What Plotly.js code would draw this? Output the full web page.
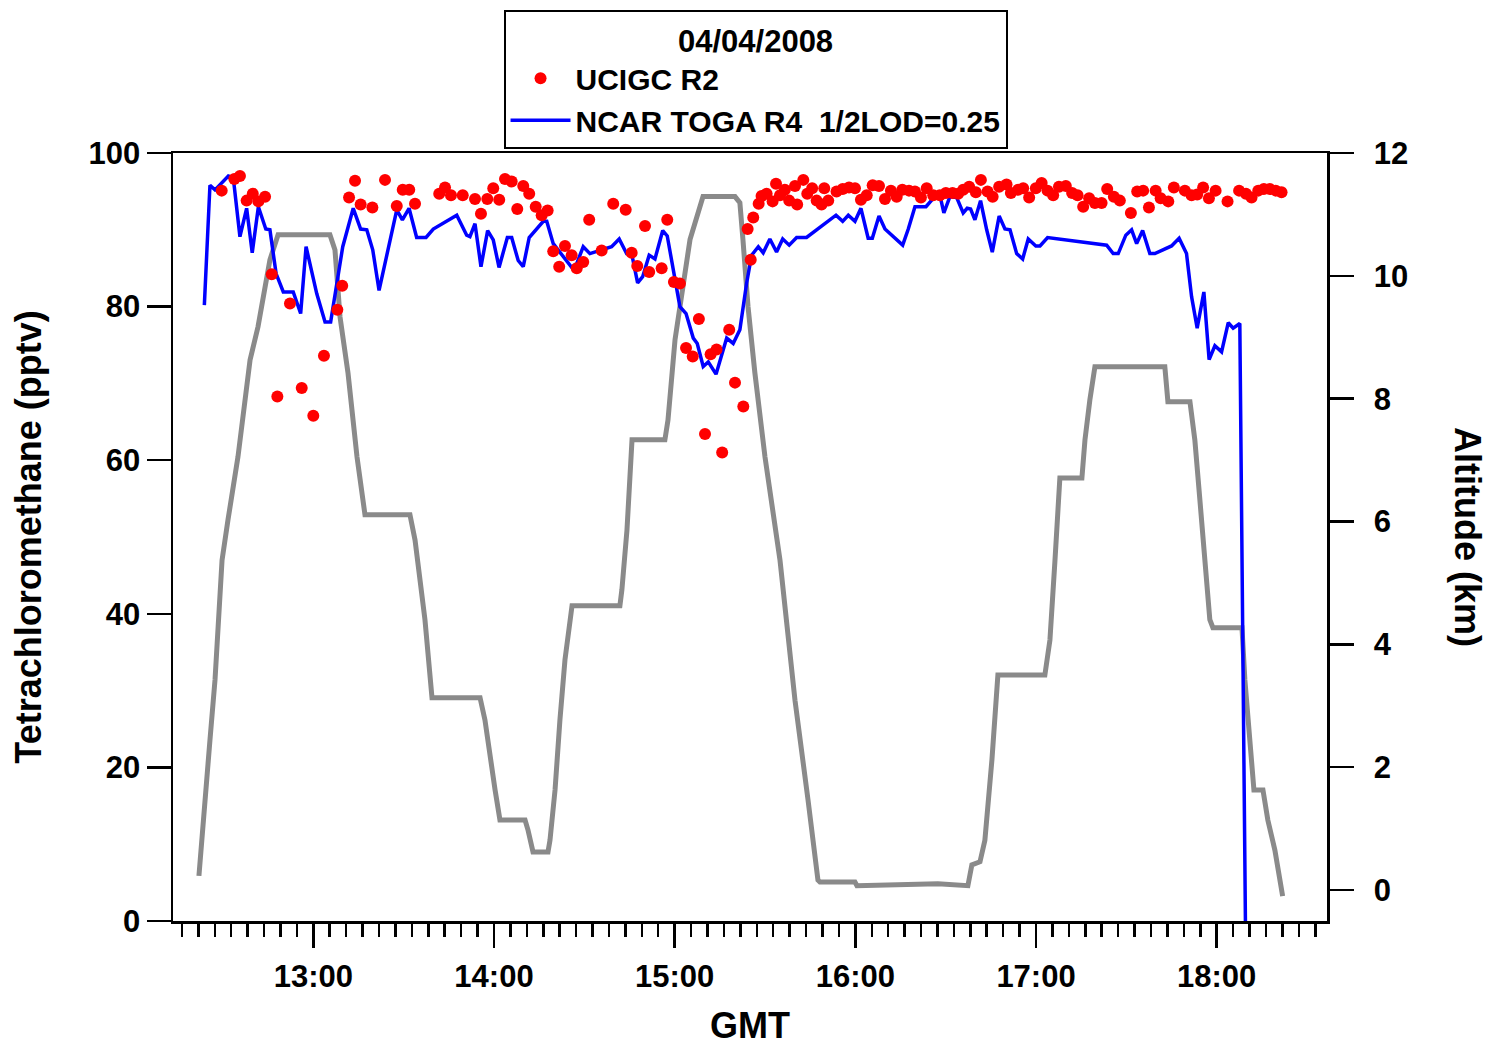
<!DOCTYPE html>
<html>
<head>
<meta charset="utf-8">
<script src="https://cdn.plot.ly/plotly-3.0.1.min.js"></script>
<style>html,body{margin:0;padding:0;background:#fff;}#chart{width:1499px;height:1052px;}</style>
</head>
<body>
<div id="chart"></div>
<script>
// GMT in decimal hours
const hourTicks = [13, 14, 15, 16, 17, 18];
const hourLabels = ["13:00", "14:00", "15:00", "16:00", "17:00", "18:00"];

// Altitude (km)
const altTime = [12.367,12.390,12.428,12.456,12.495,12.528,12.583,12.650,12.694,12.760,12.805,13.092,13.120,13.148,13.192,13.242,13.286,13.535,13.563,13.618,13.657,13.923,13.950,14.006,14.033,14.172,14.188,14.216,14.299,14.310,14.338,14.365,14.393,14.432,14.697,14.708,14.736,14.764,14.946,14.963,15.002,15.085,15.157,15.334,15.361,15.378,15.406,15.444,15.483,15.500,15.583,15.666,15.738,15.793,15.804,15.998,16.009,16.457,16.623,16.645,16.690,16.717,16.756,16.789,17.049,17.077,17.105,17.132,17.254,17.271,17.298,17.326,17.713,17.730,17.852,17.879,17.907,17.935,17.962,17.979,18.140,18.156,18.184,18.206,18.256,18.283,18.322,18.365];
const altKm = [0.23,0.98,2.44,3.42,5.37,6.03,7.05,8.63,9.17,10.26,10.67,10.67,10.42,9.33,8.42,7.05,6.11,6.11,5.70,4.40,3.13,3.13,2.77,1.63,1.14,1.14,0.98,0.62,0.62,0.81,1.63,2.77,3.75,4.63,4.63,4.89,5.86,7.33,7.33,7.65,8.96,10.59,11.29,11.29,11.19,10.59,9.50,8.42,7.49,7.05,5.37,3.09,1.47,0.16,0.13,0.13,0.07,0.10,0.07,0.41,0.46,0.81,2.12,3.50,3.50,4.07,5.37,6.71,6.71,7.33,7.98,8.52,8.52,7.95,7.95,7.33,6.35,5.37,4.40,4.27,4.27,3.42,2.44,1.63,1.63,1.14,0.65,-0.10];

// NCAR TOGA R4 (pptv)
const togaTime = [12.397,12.428,12.456,12.530,12.557,12.594,12.631,12.662,12.696,12.737,12.760,12.794,12.834,12.889,12.930,12.960,13.019,13.065,13.096,13.163,13.221,13.262,13.296,13.329,13.364,13.415,13.462,13.493,13.530,13.572,13.624,13.664,13.794,13.849,13.867,13.895,13.928,13.965,13.996,14.028,14.074,14.098,14.134,14.162,14.195,14.273,14.292,14.328,14.365,14.430,14.458,14.494,14.531,14.651,14.693,14.734,14.762,14.795,14.823,14.859,14.891,14.934,14.959,15.002,15.029,15.063,15.103,15.125,15.158,15.186,15.229,15.288,15.324,15.361,15.398,15.426,15.463,15.490,15.527,15.564,15.598,15.634,15.675,15.730,15.822,15.893,15.930,15.961,15.998,16.031,16.071,16.094,16.131,16.164,16.262,16.293,16.330,16.391,16.431,16.468,16.490,16.523,16.561,16.597,16.619,16.638,16.662,16.693,16.727,16.758,16.796,16.828,16.856,16.893,16.926,16.957,16.999,17.022,17.064,17.391,17.427,17.455,17.497,17.529,17.557,17.590,17.630,17.658,17.750,17.792,17.833,17.861,17.892,17.929,17.958,17.990,18.027,18.064,18.091,18.128,18.159];
const togaVal = [80.2,95.8,95.2,97.0,96.8,89.1,92.8,87.0,93.0,90.1,90.0,84.3,81.9,81.9,79.1,87.8,81.7,78.0,78.0,87.8,92.8,90.1,90.0,87.4,82.1,87.4,92.6,91.3,92.8,89.0,89.0,90.1,91.9,89.3,89.1,90.8,85.2,89.9,88.7,85.1,89.0,89.0,86.0,85.2,89.0,91.1,91.1,88.2,87.1,85.1,85.6,87.8,86.9,87.8,88.8,86.9,86.9,83.1,83.9,86.7,86.2,89.9,89.2,83.5,80.0,79.1,75.9,75.2,72.2,72.8,71.2,75.9,75.2,77.0,83.0,86.7,87.8,87.0,88.8,87.1,88.8,88.0,89.0,89.0,90.6,91.9,91.1,91.9,91.1,92.8,88.9,88.9,91.8,90.1,88.0,90.1,93.0,93.0,94.1,94.5,92.2,94.3,94.2,92.2,92.8,92.7,91.3,93.8,90.0,87.1,91.8,90.1,90.0,86.9,86.2,88.8,87.9,87.9,89.0,88.0,86.9,86.9,89.3,90.0,88.2,89.9,86.9,86.9,87.9,88.9,86.9,81.3,77.2,81.9,73.1,74.9,74.1,77.9,77.2,77.8,0];

// UCIGC R2 (pptv)
const ucTime = [12.493,12.563,12.594,12.631,12.665,12.696,12.733,12.770,12.801,12.871,12.936,13.000,13.059,13.133,13.160,13.198,13.231,13.262,13.327,13.397,13.462,13.495,13.531,13.563,13.697,13.729,13.762,13.827,13.895,13.928,13.963,13.996,14.029,14.061,14.098,14.129,14.162,14.195,14.231,14.264,14.297,14.328,14.361,14.393,14.430,14.458,14.494,14.527,14.596,14.660,14.729,14.762,14.793,14.836,14.859,14.928,14.959,14.996,15.029,15.063,15.100,15.134,15.168,15.199,15.232,15.263,15.302,15.334,15.380,15.404,15.421,15.435,15.465,15.481,15.509,15.542,15.561,15.583,15.610,15.634,15.666,15.678,15.712,15.734,15.761,15.786,15.813,15.828,15.850,15.896,15.930,15.965,15.998,16.031,16.063,16.096,16.131,16.164,16.197,16.229,16.260,16.297,16.330,16.363,16.395,16.431,16.468,16.501,16.538,16.569,16.597,16.630,16.667,16.695,16.732,16.760,16.796,16.837,16.861,16.901,16.929,16.962,16.999,17.031,17.064,17.095,17.127,17.165,17.200,17.230,17.261,17.294,17.326,17.363,17.394,17.431,17.464,17.525,17.560,17.593,17.625,17.662,17.690,17.732,17.763,17.824,17.861,17.892,17.925,17.957,17.994,18.060,18.124,18.162,18.193,18.230,18.261,18.294,18.327,18.359];
const ucVal = [95.1,96.6,97.0,93.8,94.7,93.7,94.3,84.2,68.3,80.4,69.4,65.8,73.6,79.6,82.7,94.2,96.4,93.3,92.9,96.5,93.1,95.2,95.2,93.4,94.7,95.5,94.5,94.5,94.0,92.1,94.0,95.4,93.9,96.6,96.3,92.7,95.7,94.7,93.0,91.9,92.5,87.2,85.2,87.9,86.7,85.0,85.8,91.3,87.3,93.4,92.6,87.0,85.3,90.5,84.5,85.0,91.3,83.2,83.0,74.6,73.5,78.4,63.4,73.8,74.4,61.0,77.0,70.1,67.0,90.1,86.1,91.6,93.4,94.4,94.7,93.7,96.0,94.5,95.2,93.8,95.7,93.3,96.5,94.7,95.4,93.8,93.3,95.4,93.8,95.0,95.3,95.5,95.4,93.9,94.5,95.8,95.7,94.0,95.1,94.3,95.2,95.1,95.0,94.2,95.4,94.5,94.5,94.8,94.8,94.7,95.2,95.6,94.9,96.5,95.0,94.3,95.6,95.9,94.8,95.2,95.4,94.2,95.4,96.1,95.1,94.5,95.6,95.7,94.8,94.5,93.0,94.1,93.5,93.5,95.3,94.3,93.8,92.2,95.0,95.1,92.9,95.1,94.1,93.7,95.5,95.1,94.5,94.6,95.5,94.1,95.1,93.7,95.1,94.7,94.2,95.1,95.3,95.3,95.1,94.9];

// medium tick positions (every 5/11 h, as on the original time axis)
const mediumTicks = [];
for (let h = 12; h <= 18; h++) { mediumTicks.push(h + 5/11, h + 10/11); }

const FONT = 'Liberation Sans, Arial, Helvetica, sans-serif';
const xRange = [12.2235, 18.6105];

const traces = [
  {
    x: altTime, y: altKm, xaxis: 'x', yaxis: 'y',
    type: 'scatter', mode: 'lines', name: 'Altitude',
    line: {color: '#8a8a8a', width: 5}, showlegend: false, hoverinfo: 'skip'
  },
  {
    x: togaTime, y: togaVal, xaxis: 'x', yaxis: 'y2',
    type: 'scatter', mode: 'lines', name: 'NCAR TOGA R4\u00a0\u00a01/2LOD=0.25',
    line: {color: '#0000ff', width: 3.5}, legendrank: 2
  },
  {
    x: ucTime, y: ucVal, xaxis: 'x', yaxis: 'y2',
    type: 'scatter', mode: 'markers', name: 'UCIGC R2',
    marker: {color: '#ff0000', size: 12}, legendrank: 1
  }
];

const layout = {
  width: 1499, height: 1052,
  margin: {l: 173, r: 172, t: 153, b: 131, autoexpand: false},
  paper_bgcolor: '#ffffff', plot_bgcolor: '#ffffff',
  font: {family: FONT, size: 32, color: '#000'},
  showlegend: true,
  legend: {
    x: 0.5048, xanchor: 'center', y: 1.1862, yanchor: 'top',
    bgcolor: '#ffffff', bordercolor: '#000', borderwidth: 2,
    font: {family: FONT, size: 30, color: '#000', weight: 'bold'},
    title: {text: '04/04/2008', side: 'top center', font: {family: FONT, size: 31, color: '#000', weight: 'bold'}},
    tracegroupgap: 0, itemwidth: 60
  },
  xaxis: {
    range: xRange, tickmode: 'array', tickvals: hourTicks, ticktext: hourLabels,
    ticks: 'outside', ticklen: 24, tickwidth: 2.5, tickcolor: '#000',
    showline: true, linewidth: 2.5, linecolor: '#000', mirror: true,
    showgrid: false, zeroline: false, ticklabelstandoff: 2,
    tickfont: {family: FONT, size: 31, weight: 'bold'},
    minor: {tickmode: 'linear', tick0: 13, dtick: 1/11, ticks: 'outside', ticklen: 13, tickwidth: 2.5, tickcolor: '#000', showgrid: false},
    title: {text: 'GMT', font: {family: FONT, size: 36, weight: 'bold'}, standoff: 20}
  },
  xaxis2: {
    range: xRange, overlaying: 'x', anchor: 'y', side: 'bottom',
    tickmode: 'array', tickvals: mediumTicks, ticks: 'outside', ticklen: 19, tickwidth: 2.5, tickcolor: '#000',
    showticklabels: false, showline: false, showgrid: false, zeroline: false
  },
  yaxis: {
    range: [-0.505, 12], side: 'right', anchor: 'x',
    tickmode: 'array', tickvals: [0, 2, 4, 6, 8, 10, 12],
    ticks: 'outside', ticklen: 24, tickwidth: 2.5, tickcolor: '#000',
    showline: true, linewidth: 2.5, linecolor: '#000',
    showgrid: false, zeroline: false, ticklabelstandoff: 14,
    tickfont: {family: FONT, size: 31, weight: 'bold'}
  },
  yaxis2: {
    range: [0, 100], side: 'left', overlaying: 'y', anchor: 'x',
    tickmode: 'array', tickvals: [0, 20, 40, 60, 80, 100],
    ticks: 'outside', ticklen: 24, tickwidth: 2.5, tickcolor: '#000',
    showline: true, linewidth: 2.5, linecolor: '#000',
    showgrid: false, zeroline: false, ticklabelstandoff: 0,
    tickfont: {family: FONT, size: 31, weight: 'bold'},
    title: {text: 'Tetrachloromethane (pptv)', font: {family: FONT, size: 36, weight: 'bold'}, standoff: 36}
  },
  annotations: [{
    text: 'Altitude (km)', xref: 'paper', yref: 'paper', x: 1.1222, y: 0.5,
    xanchor: 'center', yanchor: 'middle', textangle: 90, showarrow: false,
    font: {family: FONT, size: 36, color: '#000', weight: 'bold'}
  }]
};

Plotly.newPlot('chart', traces, layout, {displayModeBar: false, staticPlot: true});
</script>
</body>
</html>
